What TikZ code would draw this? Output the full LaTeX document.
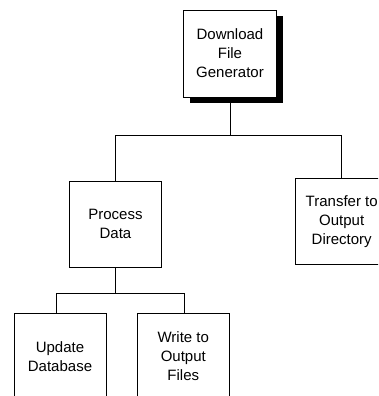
\documentclass[tikz,border=0pt]{standalone}
\usepackage{fontspec}
\setmainfont{Liberation Sans}
\usetikzlibrary{shadows}

\tikzset{
	every task/.style={draw, line width=0.8pt, fill=white, inner sep=0pt,
		minimum width=92pt, minimum height=86pt, align=center,
		font={\fontsize{15}{19}\selectfont}},
	task root/.style={minimum width=93pt, minimum height=87pt,
		drop shadow={shadow xshift=6pt, shadow yshift=-6pt, fill=black, opacity=1}},
	link/.style={line width=0.8pt}
}

\begin{document}
\begin{tikzpicture}[x=1pt, y=-1pt]
		\useasboundingbox (0,0) rectangle (378,396);
		\clip (0,0) rectangle (378,396);

		\node [every task/.try, task root/.try] (generator) at (230,53.5) {Download\\File\\Generator};

		\node [every task/.try] (process) at (115.5,224) {Process\\Data};
		\node [every task/.try] (transfer) at (341.7,221.3) {Transfer to\\Output\\Directory};

		\node [every task/.try] (update) at (60,356.3) {Update\\Database};
		\node [every task/.try] (write) at (183.3,356.3) {Write to\\Output\\Files};

		\foreach \t in {process, transfer}
		\draw [link] (generator.south) -- ++(0,38.3) -| (\t.north);

		\foreach \t/\s in {update/-4, write/1}
		\draw [link] (process.south) -- ++(0,26) -| ([xshift=\s pt]\t.north);
	\end{tikzpicture}
\end{document}
